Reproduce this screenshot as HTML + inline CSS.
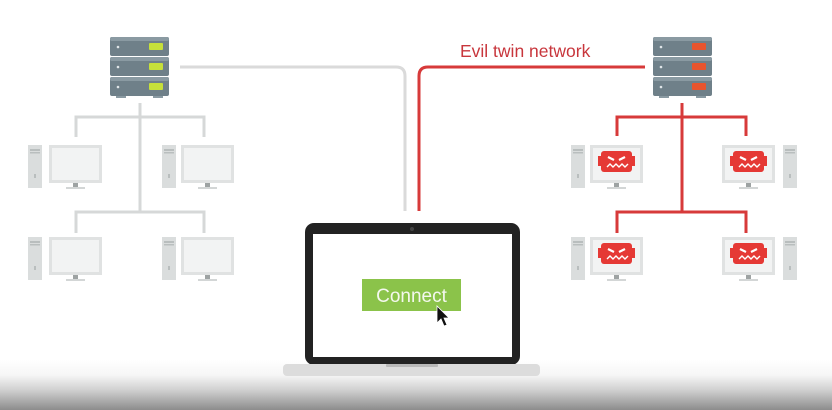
<!DOCTYPE html>
<html><head><meta charset="utf-8"><style>
html,body{margin:0;padding:0;width:832px;height:410px;overflow:hidden;background:#fff}
</style></head><body>
<svg width="832" height="410" viewBox="0 0 832 410" xmlns="http://www.w3.org/2000/svg">
<defs>
<linearGradient id="bot" x1="0" y1="0" x2="0" y2="1">
<stop offset="0" stop-color="#ffffff"/><stop offset="0.3" stop-color="#f6f6f6"/><stop offset="0.6" stop-color="#d0d0d0"/><stop offset="1" stop-color="#8c8c8c"/>
</linearGradient>
<g id="srvunit">
<rect x="0" y="0" width="59" height="19" rx="2" fill="#6f8089"/>
<rect x="0" y="0" width="59" height="4" rx="2" fill="#8a9aa2"/>
<circle cx="8" cy="10" r="1.3" fill="#dfe5e8"/>
</g>
<g id="tower">
<rect x="0" y="0" width="14" height="43" fill="#dadddd"/>
<rect x="2" y="4" width="10" height="2" fill="#b9bebe"/>
<rect x="2" y="7" width="10" height="1.5" fill="#b9bebe"/>
<rect x="6" y="29" width="2" height="4" fill="#b9bebe"/>
</g>
<g id="mon">
<rect x="0" y="0" width="53" height="38" fill="#e0e2e2"/>
<rect x="3" y="3" width="47" height="32" fill="#f2f3f3"/>
<rect x="24" y="38" width="5" height="4" fill="#9ea3a3"/>
<rect x="17" y="42" width="19" height="2" fill="#d3d6d6"/>
</g>
<g id="robot">
<rect x="11" y="6" width="31" height="21" rx="3" fill="#e53935"/>
<rect x="8" y="11" width="3" height="10" fill="#e53935"/>
<rect x="42" y="11" width="3" height="10" fill="#e53935"/>
<path d="M18 12 l6 3 M35 12 l-6 3" stroke="#fff" stroke-width="2.2"/>
<path d="M17 22 l3 -3 l3 3 l3 -3 l3 3 l3 -3 l3 3 l3 -3" stroke="#fff" stroke-width="1.4" fill="none"/>
</g>
</defs>

<!-- connectors -->
<path d="M180 67 H396 Q405 67 405 76 V211" stroke="#dadada" stroke-width="3" fill="none"/>
<path d="M645 67 H428 Q419 67 419 76 V211" stroke="#d73a3a" stroke-width="3" fill="none"/>
<text x="460" y="57" font-family="Liberation Sans, sans-serif" font-size="17.5" fill="#c8363c">Evil twin network</text>

<!-- left tree -->
<g stroke="#d6d8d8" stroke-width="3" fill="none">
<path d="M140 103 V213"/>
<path d="M76 137 V117 H204 V137"/>
<path d="M76 233 V212 H204 V233"/>
</g>
<!-- right tree -->
<g stroke="#d73a3a" stroke-width="3" fill="none">
<path d="M682 103 V213"/>
<path d="M617 136 V117 H746 V136"/>
<path d="M617 233 V212 H746 V233"/>
</g>

<!-- servers -->
<g transform="translate(110,37)">
<use href="#srvunit"/><use href="#srvunit" y="20"/><use href="#srvunit" y="40"/>
<rect x="39" y="6" width="14" height="7" rx="1" fill="#c6e03a"/>
<rect x="39" y="26" width="14" height="7" rx="1" fill="#c6e03a"/>
<rect x="39" y="46" width="14" height="7" rx="1" fill="#c6e03a"/>
<rect x="6" y="59" width="10" height="2" fill="#8a9aa2"/><rect x="43" y="59" width="10" height="2" fill="#8a9aa2"/>
</g>
<g transform="translate(653,37)">
<use href="#srvunit"/><use href="#srvunit" y="20"/><use href="#srvunit" y="40"/>
<rect x="39" y="6" width="14" height="7" rx="1" fill="#e8542e"/>
<rect x="39" y="26" width="14" height="7" rx="1" fill="#e8542e"/>
<rect x="39" y="46" width="14" height="7" rx="1" fill="#e8542e"/>
<rect x="6" y="59" width="10" height="2" fill="#8a9aa2"/><rect x="43" y="59" width="10" height="2" fill="#8a9aa2"/>
</g>

<!-- left computers -->
<use href="#tower" x="28" y="145"/><use href="#mon" x="49" y="145"/>
<use href="#tower" x="162" y="145"/><use href="#mon" x="181" y="145"/>
<use href="#tower" x="28" y="237"/><use href="#mon" x="49" y="237"/>
<use href="#tower" x="162" y="237"/><use href="#mon" x="181" y="237"/>

<!-- right computers -->
<use href="#tower" x="571" y="145"/><use href="#mon" x="590" y="145"/><use href="#robot" x="590" y="145"/>
<use href="#mon" x="722" y="145"/><use href="#robot" x="722" y="145"/><use href="#tower" x="783" y="145"/>
<use href="#tower" x="571" y="237"/><use href="#mon" x="590" y="237"/><use href="#robot" x="590" y="237"/>
<use href="#mon" x="722" y="237"/><use href="#robot" x="722" y="237"/><use href="#tower" x="783" y="237"/>

<!-- bottom gradient -->
<rect x="0" y="360" width="832" height="50" fill="url(#bot)"/>

<!-- laptop -->
<rect x="305" y="223" width="215" height="142" rx="9" fill="#222"/>
<rect x="313" y="234" width="199" height="123" fill="#fff"/>
<circle cx="412" cy="229" r="2" fill="#444"/>
<rect x="283" y="364" width="257" height="12" rx="4" fill="#dcdcdc"/>
<rect x="386" y="364" width="52" height="3" rx="1" fill="#b8b8b8"/>
<rect x="362" y="279" width="99" height="32" fill="#8bc34a"/>
<text x="411.5" y="302" text-anchor="middle" font-family="Liberation Sans, sans-serif" font-size="19" fill="#f4f8ee">Connect</text>
<path d="M437 306 L437 323 L441 319 L444 326 L447 325 L444 318 L449 318 Z" fill="#111" stroke="#fff" stroke-width="0.8"/>
</svg>
</body></html>
